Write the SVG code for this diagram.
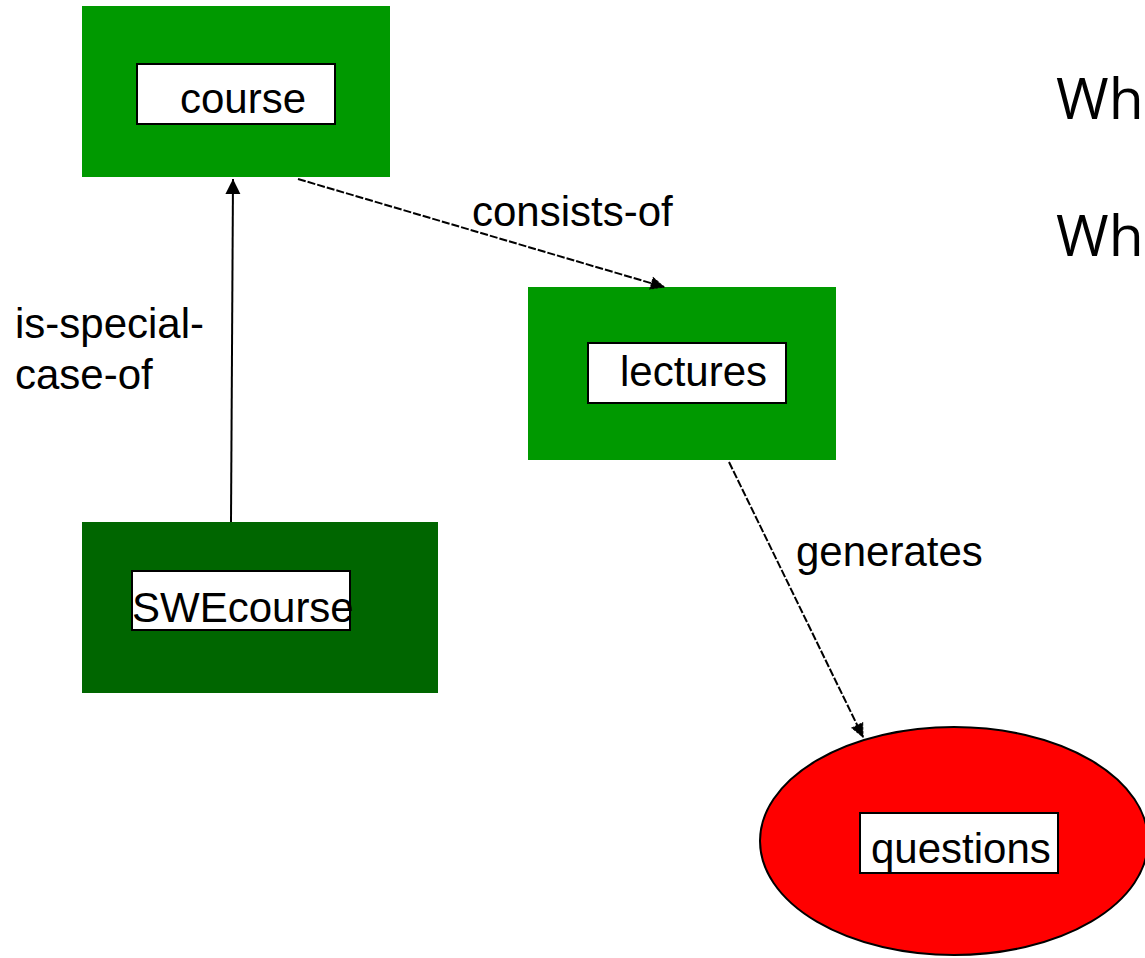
<svg xmlns="http://www.w3.org/2000/svg" width="1145" height="958" viewBox="0 0 1145 958">
  <style>
    .lbl { font-family: "Liberation Sans", Arial, sans-serif; font-size: 42px; fill: #000; }
    .tag { fill: #fff; stroke: #000; stroke-width: 2; }
    .big { font-family: "Open Sans", "Liberation Sans", sans-serif; font-size: 57px; fill: #000; }
    .solid { stroke: #000; stroke-width: 2; fill: none; }
    .dash { stroke: #000; stroke-width: 2; fill: none; stroke-dasharray: 8 2; }
  </style>
  <defs>
    <marker id="filled" markerWidth="16" markerHeight="16" refX="15" refY="8" orient="auto" markerUnits="userSpaceOnUse">
      <path d="M0,0.5 L15,8 L0,15.5 Z" fill="#000"/>
    </marker>
    <marker id="open" markerWidth="16" markerHeight="16" refX="14" refY="8" orient="auto" markerUnits="userSpaceOnUse">
      <path d="M1,2 L14,8 L1,14 Z" fill="#000" stroke="#000" stroke-width="1" stroke-dasharray="3 1"/>
    </marker>
  </defs>

  <rect width="1145" height="958" fill="#fff"/>

  <!-- side text -->
  <text class="big" x="1056" y="119">Wh</text>
  <text class="big" x="1056" y="256">Wh</text>

  <!-- nodes -->
  <g id="course">
    <rect x="82" y="6" width="308" height="171" fill="#009900"/>
    <rect class="tag" x="137" y="64" width="198" height="60"/>
    <text class="lbl" x="180" y="113">course</text>
  </g>

  <g id="lectures">
    <rect x="528" y="287" width="308" height="173" fill="#009900"/>
    <rect class="tag" x="588" y="343" width="198" height="60"/>
    <text class="lbl" x="620" y="386">lectures</text>
  </g>

  <g id="swecourse">
    <rect x="82" y="522" width="356" height="171" fill="#006600"/>
    <rect class="tag" x="132" y="571" width="218" height="59"/>
    <text class="lbl" x="132" y="622">SWEcourse</text>
  </g>

  <g id="questions">
    <ellipse cx="954" cy="841" rx="194" ry="114" fill="#ff0000" stroke="#000" stroke-width="2"/>
    <rect class="tag" x="860" y="813" width="198" height="60"/>
    <text class="lbl" x="871" y="863">questions</text>
  </g>

  <!-- connectors -->
  <g id="connectors">
    <line class="solid" x1="231" y1="522" x2="233" y2="179" marker-end="url(#filled)"/>
    <line class="dash" x1="298" y1="179" x2="664" y2="287" marker-end="url(#open)"/>
    <line class="dash" x1="729" y1="462" x2="863" y2="737" marker-end="url(#open)"/>
  </g>

  <!-- connector labels -->
  <g id="labels">
    <text class="lbl" x="472" y="226">consists-of</text>
    <text class="lbl" x="15" y="338">is-special-</text>
    <text class="lbl" x="15" y="389">case-of</text>
    <text class="lbl" x="796" y="566">generates</text>
  </g>
</svg>
